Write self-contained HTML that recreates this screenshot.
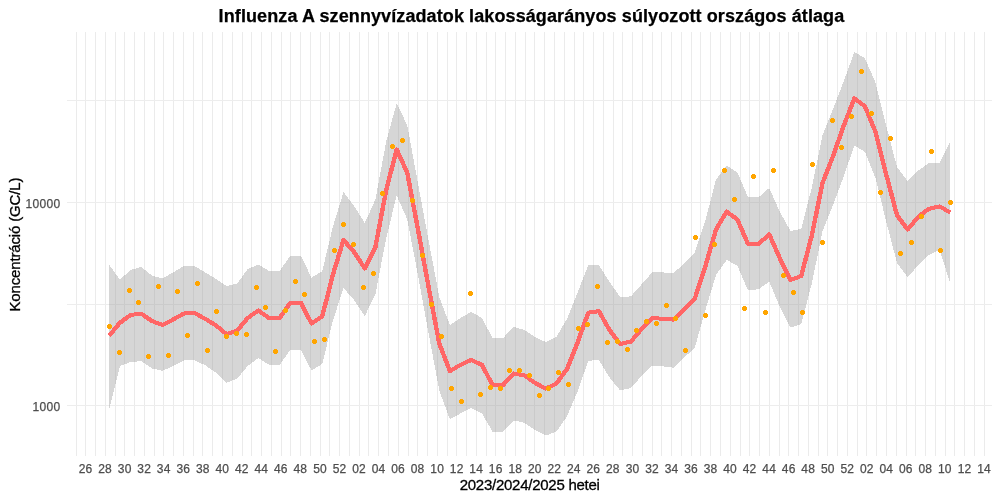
<!DOCTYPE html>
<html lang="hu"><head><meta charset="utf-8"><title>Influenza A szennyvízadatok</title>
<style>
html,body{margin:0;padding:0;background:#fff;}
body{width:1000px;height:500px;overflow:hidden;}
svg{display:block;font-family:"Liberation Sans",sans-serif;}
.tick{font-size:12px;fill:#4D4D4D;stroke:#4D4D4D;stroke-width:0.25px;}
.axt{font-size:15px;fill:#000;stroke:#000;stroke-width:0.3px;}
.ttl{font-size:18px;font-weight:bold;fill:#000;stroke:#000;stroke-width:0.25px;}
</style></head><body>
<svg width="1000" height="500" viewBox="0 0 1000 500">
<rect x="0" y="0" width="1000" height="500" fill="#FFFFFF"/>
<g shape-rendering="crispEdges" fill="#EBEBEB">
<rect x="76" y="32" width="1" height="424"/>
<rect x="85" y="32" width="1" height="424"/>
<rect x="95" y="32" width="1" height="424"/>
<rect x="105" y="32" width="1" height="424"/>
<rect x="115" y="32" width="1" height="424"/>
<rect x="124" y="32" width="1" height="424"/>
<rect x="134" y="32" width="1" height="424"/>
<rect x="144" y="32" width="1" height="424"/>
<rect x="154" y="32" width="1" height="424"/>
<rect x="163" y="32" width="1" height="424"/>
<rect x="173" y="32" width="1" height="424"/>
<rect x="183" y="32" width="1" height="424"/>
<rect x="193" y="32" width="1" height="424"/>
<rect x="202" y="32" width="1" height="424"/>
<rect x="212" y="32" width="1" height="424"/>
<rect x="222" y="32" width="1" height="424"/>
<rect x="232" y="32" width="1" height="424"/>
<rect x="242" y="32" width="1" height="424"/>
<rect x="251" y="32" width="1" height="424"/>
<rect x="261" y="32" width="1" height="424"/>
<rect x="271" y="32" width="1" height="424"/>
<rect x="281" y="32" width="1" height="424"/>
<rect x="290" y="32" width="1" height="424"/>
<rect x="300" y="32" width="1" height="424"/>
<rect x="310" y="32" width="1" height="424"/>
<rect x="320" y="32" width="1" height="424"/>
<rect x="329" y="32" width="1" height="424"/>
<rect x="339" y="32" width="1" height="424"/>
<rect x="349" y="32" width="1" height="424"/>
<rect x="359" y="32" width="1" height="424"/>
<rect x="368" y="32" width="1" height="424"/>
<rect x="378" y="32" width="1" height="424"/>
<rect x="388" y="32" width="1" height="424"/>
<rect x="398" y="32" width="1" height="424"/>
<rect x="408" y="32" width="1" height="424"/>
<rect x="417" y="32" width="1" height="424"/>
<rect x="427" y="32" width="1" height="424"/>
<rect x="437" y="32" width="1" height="424"/>
<rect x="447" y="32" width="1" height="424"/>
<rect x="456" y="32" width="1" height="424"/>
<rect x="466" y="32" width="1" height="424"/>
<rect x="476" y="32" width="1" height="424"/>
<rect x="486" y="32" width="1" height="424"/>
<rect x="495" y="32" width="1" height="424"/>
<rect x="505" y="32" width="1" height="424"/>
<rect x="515" y="32" width="1" height="424"/>
<rect x="525" y="32" width="1" height="424"/>
<rect x="534" y="32" width="1" height="424"/>
<rect x="544" y="32" width="1" height="424"/>
<rect x="554" y="32" width="1" height="424"/>
<rect x="564" y="32" width="1" height="424"/>
<rect x="574" y="32" width="1" height="424"/>
<rect x="583" y="32" width="1" height="424"/>
<rect x="593" y="32" width="1" height="424"/>
<rect x="603" y="32" width="1" height="424"/>
<rect x="613" y="32" width="1" height="424"/>
<rect x="622" y="32" width="1" height="424"/>
<rect x="632" y="32" width="1" height="424"/>
<rect x="642" y="32" width="1" height="424"/>
<rect x="652" y="32" width="1" height="424"/>
<rect x="661" y="32" width="1" height="424"/>
<rect x="671" y="32" width="1" height="424"/>
<rect x="681" y="32" width="1" height="424"/>
<rect x="691" y="32" width="1" height="424"/>
<rect x="700" y="32" width="1" height="424"/>
<rect x="710" y="32" width="1" height="424"/>
<rect x="720" y="32" width="1" height="424"/>
<rect x="730" y="32" width="1" height="424"/>
<rect x="740" y="32" width="1" height="424"/>
<rect x="749" y="32" width="1" height="424"/>
<rect x="759" y="32" width="1" height="424"/>
<rect x="769" y="32" width="1" height="424"/>
<rect x="779" y="32" width="1" height="424"/>
<rect x="788" y="32" width="1" height="424"/>
<rect x="798" y="32" width="1" height="424"/>
<rect x="808" y="32" width="1" height="424"/>
<rect x="818" y="32" width="1" height="424"/>
<rect x="827" y="32" width="1" height="424"/>
<rect x="837" y="32" width="1" height="424"/>
<rect x="847" y="32" width="1" height="424"/>
<rect x="857" y="32" width="1" height="424"/>
<rect x="866" y="32" width="1" height="424"/>
<rect x="876" y="32" width="1" height="424"/>
<rect x="886" y="32" width="1" height="424"/>
<rect x="896" y="32" width="1" height="424"/>
<rect x="906" y="32" width="1" height="424"/>
<rect x="915" y="32" width="1" height="424"/>
<rect x="925" y="32" width="1" height="424"/>
<rect x="935" y="32" width="1" height="424"/>
<rect x="945" y="32" width="1" height="424"/>
<rect x="954" y="32" width="1" height="424"/>
<rect x="964" y="32" width="1" height="424"/>
<rect x="974" y="32" width="1" height="424"/>
<rect x="984" y="32" width="1" height="424"/>
</g>
<g shape-rendering="crispEdges" fill="#EDEDED">
<rect x="67" y="100" width="925" height="1"/>
<rect x="67" y="202" width="925" height="1"/>
<rect x="67" y="304" width="925" height="1"/>
<rect x="67" y="405" width="925" height="1"/>
</g>
<path d="M109.3,264.9 L119.9,279.6 L130.6,270.0 L141.2,266.8 L151.9,275.6 L162.5,278.5 L173.2,272.4 L183.8,266.0 L194.5,266.0 L205.1,272.4 L215.7,278.8 L226.4,286.0 L237.0,283.6 L247.7,269.2 L258.3,264.4 L269.0,270.9 L279.6,270.9 L290.3,256.0 L300.9,256.0 L311.5,277.6 L322.2,271.2 L332.8,227.0 L343.5,192.0 L354.1,206.0 L364.8,223.0 L375.4,199.5 L386.1,142.0 L396.7,103.2 L407.3,125.4 L418.0,183.5 L428.6,240.5 L439.3,297.0 L449.9,325.2 L460.6,318.0 L471.2,311.8 L481.9,318.0 L492.5,338.0 L503.1,338.0 L513.8,326.8 L524.4,330.0 L535.1,337.2 L545.7,342.0 L556.4,337.0 L567.0,318.8 L577.6,292.4 L588.3,265.2 L598.9,265.2 L609.6,282.0 L620.2,297.2 L630.9,296.4 L641.5,284.4 L652.2,272.4 L662.8,272.4 L673.4,273.2 L684.1,263.4 L694.7,252.5 L705.4,220.5 L716.0,179.6 L726.7,165.4 L737.3,172.4 L748.0,197.2 L758.6,197.2 L769.2,188.0 L779.9,212.0 L790.5,231.0 L801.2,228.8 L811.8,187.5 L822.5,135.5 L833.1,108.8 L843.8,81.0 L854.4,52.0 L865.0,58.4 L875.7,83.2 L886.3,126.0 L897.0,167.2 L907.6,181.0 L918.3,170.4 L928.9,163.2 L939.6,163.0 L950.2,141.5 L950.2,283.0 L939.6,250.0 L928.9,254.8 L918.3,265.2 L907.6,277.2 L897.0,263.0 L886.3,222.0 L875.7,178.5 L865.0,152.0 L854.4,145.6 L843.8,176.0 L833.1,205.0 L822.5,231.5 L811.8,283.5 L801.2,324.0 L790.5,327.5 L779.9,307.0 L769.2,281.6 L758.6,289.2 L748.0,290.4 L737.3,265.5 L726.7,260.0 L716.0,275.0 L705.4,310.0 L694.7,348.0 L684.1,357.6 L673.4,367.7 L662.8,366.4 L652.2,365.6 L641.5,376.0 L630.9,388.0 L620.2,390.4 L609.6,377.6 L598.9,360.0 L588.3,360.8 L577.6,391.4 L567.0,416.4 L556.4,431.6 L545.7,435.6 L535.1,430.0 L524.4,422.8 L513.8,420.4 L503.1,431.6 L492.5,431.6 L481.9,413.4 L471.2,408.0 L460.6,413.4 L449.9,419.4 L439.3,390.5 L428.6,333.5 L418.0,275.5 L407.3,219.5 L396.7,195.5 L386.1,238.5 L375.4,294.5 L364.8,316.0 L354.1,300.0 L343.5,288.0 L332.8,321.0 L322.2,364.0 L311.5,370.4 L300.9,349.9 L290.3,349.9 L279.6,364.8 L269.0,364.8 L258.3,358.0 L247.7,366.0 L237.0,378.8 L226.4,382.8 L215.7,372.4 L205.1,365.2 L194.5,360.4 L183.8,360.4 L173.2,366.0 L162.5,370.8 L151.9,368.4 L141.2,361.2 L130.6,362.0 L119.9,366.0 L109.3,409.0 Z" fill="#999999" fill-opacity="0.4" shape-rendering="crispEdges"/>
<g fill="none" stroke="#FF6666" stroke-width="4" stroke-linejoin="round" stroke-linecap="butt" shape-rendering="crispEdges"><path id="ln" d="M109.3,335.6 L119.9,322.8 L130.6,314.9 L141.2,313.7 L151.9,321.0 L162.5,325.0 L173.2,319.5 L183.8,313.5 L194.5,313.0 L205.1,318.8 L215.7,325.2 L226.4,334.0 L237.0,330.8 L247.7,318.0 L258.3,310.5 L269.0,318.0 L279.6,318.0 L290.3,302.8 L300.9,302.8 L311.5,323.5 L322.2,316.5 L332.8,275.0 L343.5,240.0 L354.1,252.0 L364.8,268.5 L375.4,247.0 L386.1,190.5 L396.7,149.4 L407.3,173.0 L418.0,229.5 L428.6,287.0 L439.3,343.5 L449.9,371.2 L460.6,364.8 L471.2,360.0 L481.9,364.8 L492.5,385.0 L503.1,385.0 L513.8,373.5 L524.4,375.4 L535.1,383.0 L545.7,388.6 L556.4,383.6 L567.0,369.0 L577.6,342.4 L588.3,312.7 L598.9,311.2 L609.6,330.2 L620.2,344.0 L630.9,341.6 L641.5,329.0 L652.2,318.0 L662.8,318.8 L673.4,319.6 L684.1,309.4 L694.7,299.0 L705.4,266.0 L716.0,229.5 L726.7,211.6 L737.3,219.4 L748.0,244.0 L758.6,244.0 L769.2,234.3 L779.9,258.4 L790.5,280.0 L801.2,276.0 L811.8,235.5 L822.5,183.0 L833.1,156.0 L843.8,125.5 L854.4,98.4 L865.0,106.4 L875.7,132.5 L886.3,174.8 L897.0,215.2 L907.6,229.6 L918.3,216.8 L928.9,208.8 L939.6,206.4 L950.2,212.5"/><path transform="translate(-0.2,0)" d="M109.3,335.6 L119.9,322.8 L130.6,314.9 L141.2,313.7 L151.9,321.0 L162.5,325.0 L173.2,319.5 L183.8,313.5 L194.5,313.0 L205.1,318.8 L215.7,325.2 L226.4,334.0 L237.0,330.8 L247.7,318.0 L258.3,310.5 L269.0,318.0 L279.6,318.0 L290.3,302.8 L300.9,302.8 L311.5,323.5 L322.2,316.5 L332.8,275.0 L343.5,240.0 L354.1,252.0 L364.8,268.5 L375.4,247.0 L386.1,190.5 L396.7,149.4 L407.3,173.0 L418.0,229.5 L428.6,287.0 L439.3,343.5 L449.9,371.2 L460.6,364.8 L471.2,360.0 L481.9,364.8 L492.5,385.0 L503.1,385.0 L513.8,373.5 L524.4,375.4 L535.1,383.0 L545.7,388.6 L556.4,383.6 L567.0,369.0 L577.6,342.4 L588.3,312.7 L598.9,311.2 L609.6,330.2 L620.2,344.0 L630.9,341.6 L641.5,329.0 L652.2,318.0 L662.8,318.8 L673.4,319.6 L684.1,309.4 L694.7,299.0 L705.4,266.0 L716.0,229.5 L726.7,211.6 L737.3,219.4 L748.0,244.0 L758.6,244.0 L769.2,234.3 L779.9,258.4 L790.5,280.0 L801.2,276.0 L811.8,235.5 L822.5,183.0 L833.1,156.0 L843.8,125.5 L854.4,98.4 L865.0,106.4 L875.7,132.5 L886.3,174.8 L897.0,215.2 L907.6,229.6 L918.3,216.8 L928.9,208.8 L939.6,206.4 L950.2,212.5"/><path transform="translate(0.2,0)" d="M109.3,335.6 L119.9,322.8 L130.6,314.9 L141.2,313.7 L151.9,321.0 L162.5,325.0 L173.2,319.5 L183.8,313.5 L194.5,313.0 L205.1,318.8 L215.7,325.2 L226.4,334.0 L237.0,330.8 L247.7,318.0 L258.3,310.5 L269.0,318.0 L279.6,318.0 L290.3,302.8 L300.9,302.8 L311.5,323.5 L322.2,316.5 L332.8,275.0 L343.5,240.0 L354.1,252.0 L364.8,268.5 L375.4,247.0 L386.1,190.5 L396.7,149.4 L407.3,173.0 L418.0,229.5 L428.6,287.0 L439.3,343.5 L449.9,371.2 L460.6,364.8 L471.2,360.0 L481.9,364.8 L492.5,385.0 L503.1,385.0 L513.8,373.5 L524.4,375.4 L535.1,383.0 L545.7,388.6 L556.4,383.6 L567.0,369.0 L577.6,342.4 L588.3,312.7 L598.9,311.2 L609.6,330.2 L620.2,344.0 L630.9,341.6 L641.5,329.0 L652.2,318.0 L662.8,318.8 L673.4,319.6 L684.1,309.4 L694.7,299.0 L705.4,266.0 L716.0,229.5 L726.7,211.6 L737.3,219.4 L748.0,244.0 L758.6,244.0 L769.2,234.3 L779.9,258.4 L790.5,280.0 L801.2,276.0 L811.8,235.5 L822.5,183.0 L833.1,156.0 L843.8,125.5 L854.4,98.4 L865.0,106.4 L875.7,132.5 L886.3,174.8 L897.0,215.2 L907.6,229.6 L918.3,216.8 L928.9,208.8 L939.6,206.4 L950.2,212.5"/></g>
<g fill="#FFA500" shape-rendering="crispEdges">
<path d="M108,324h3v1h1v3h-1v1h-3v-1h-1v-3h1z"/>
<path d="M118,350h3v1h1v3h-1v1h-3v-1h-1v-3h1z"/>
<path d="M128,288h3v1h1v3h-1v1h-3v-1h-1v-3h1z"/>
<path d="M137,300h3v1h1v3h-1v1h-3v-1h-1v-3h1z"/>
<path d="M147,354h3v1h1v3h-1v1h-3v-1h-1v-3h1z"/>
<path d="M157,284h3v1h1v3h-1v1h-3v-1h-1v-3h1z"/>
<path d="M167,353h3v1h1v3h-1v1h-3v-1h-1v-3h1z"/>
<path d="M176,289h3v1h1v3h-1v1h-3v-1h-1v-3h1z"/>
<path d="M186,333h3v1h1v3h-1v1h-3v-1h-1v-3h1z"/>
<path d="M196,281h3v1h1v3h-1v1h-3v-1h-1v-3h1z"/>
<path d="M206,348h3v1h1v3h-1v1h-3v-1h-1v-3h1z"/>
<path d="M215,309h3v1h1v3h-1v1h-3v-1h-1v-3h1z"/>
<path d="M225,334h3v1h1v3h-1v1h-3v-1h-1v-3h1z"/>
<path d="M235,331h3v1h1v3h-1v1h-3v-1h-1v-3h1z"/>
<path d="M245,332h3v1h1v3h-1v1h-3v-1h-1v-3h1z"/>
<path d="M255,285h3v1h1v3h-1v1h-3v-1h-1v-3h1z"/>
<path d="M264,305h3v1h1v3h-1v1h-3v-1h-1v-3h1z"/>
<path d="M274,349h3v1h1v3h-1v1h-3v-1h-1v-3h1z"/>
<path d="M284,308h3v1h1v3h-1v1h-3v-1h-1v-3h1z"/>
<path d="M294,279h3v1h1v3h-1v1h-3v-1h-1v-3h1z"/>
<path d="M303,292h3v1h1v3h-1v1h-3v-1h-1v-3h1z"/>
<path d="M313,339h3v1h1v3h-1v1h-3v-1h-1v-3h1z"/>
<path d="M323,337h3v1h1v3h-1v1h-3v-1h-1v-3h1z"/>
<path d="M333,248h3v1h1v3h-1v1h-3v-1h-1v-3h1z"/>
<path d="M342,222h3v1h1v3h-1v1h-3v-1h-1v-3h1z"/>
<path d="M352,242h3v1h1v3h-1v1h-3v-1h-1v-3h1z"/>
<path d="M362,285h3v1h1v3h-1v1h-3v-1h-1v-3h1z"/>
<path d="M372,271h3v1h1v3h-1v1h-3v-1h-1v-3h1z"/>
<path d="M381,191h3v1h1v3h-1v1h-3v-1h-1v-3h1z"/>
<path d="M391,144h3v1h1v3h-1v1h-3v-1h-1v-3h1z"/>
<path d="M401,138h3v1h1v3h-1v1h-3v-1h-1v-3h1z"/>
<path d="M411,198h3v1h1v3h-1v1h-3v-1h-1v-3h1z"/>
<path d="M421,253h3v1h1v3h-1v1h-3v-1h-1v-3h1z"/>
<path d="M430,302h3v1h1v3h-1v1h-3v-1h-1v-3h1z"/>
<path d="M440,334h3v1h1v3h-1v1h-3v-1h-1v-3h1z"/>
<path d="M450,386h3v1h1v3h-1v1h-3v-1h-1v-3h1z"/>
<path d="M460,399h3v1h1v3h-1v1h-3v-1h-1v-3h1z"/>
<path d="M469,291h3v1h1v3h-1v1h-3v-1h-1v-3h1z"/>
<path d="M479,392h3v1h1v3h-1v1h-3v-1h-1v-3h1z"/>
<path d="M489,385h3v1h1v3h-1v1h-3v-1h-1v-3h1z"/>
<path d="M499,386h3v1h1v3h-1v1h-3v-1h-1v-3h1z"/>
<path d="M508,368h3v1h1v3h-1v1h-3v-1h-1v-3h1z"/>
<path d="M518,368h3v1h1v3h-1v1h-3v-1h-1v-3h1z"/>
<path d="M528,373h3v1h1v3h-1v1h-3v-1h-1v-3h1z"/>
<path d="M538,393h3v1h1v3h-1v1h-3v-1h-1v-3h1z"/>
<path d="M547,386h3v1h1v3h-1v1h-3v-1h-1v-3h1z"/>
<path d="M557,370h3v1h1v3h-1v1h-3v-1h-1v-3h1z"/>
<path d="M567,382h3v1h1v3h-1v1h-3v-1h-1v-3h1z"/>
<path d="M577,326h3v1h1v3h-1v1h-3v-1h-1v-3h1z"/>
<path d="M586,322h3v1h1v3h-1v1h-3v-1h-1v-3h1z"/>
<path d="M596,284h3v1h1v3h-1v1h-3v-1h-1v-3h1z"/>
<path d="M606,340h3v1h1v3h-1v1h-3v-1h-1v-3h1z"/>
<path d="M616,339h3v1h1v3h-1v1h-3v-1h-1v-3h1z"/>
<path d="M626,347h3v1h1v3h-1v1h-3v-1h-1v-3h1z"/>
<path d="M635,328h3v1h1v3h-1v1h-3v-1h-1v-3h1z"/>
<path d="M645,319h3v1h1v3h-1v1h-3v-1h-1v-3h1z"/>
<path d="M655,321h3v1h1v3h-1v1h-3v-1h-1v-3h1z"/>
<path d="M665,303h3v1h1v3h-1v1h-3v-1h-1v-3h1z"/>
<path d="M674,316h3v1h1v3h-1v1h-3v-1h-1v-3h1z"/>
<path d="M684,348h3v1h1v3h-1v1h-3v-1h-1v-3h1z"/>
<path d="M694,235h3v1h1v3h-1v1h-3v-1h-1v-3h1z"/>
<path d="M704,313h3v1h1v3h-1v1h-3v-1h-1v-3h1z"/>
<path d="M713,242h3v1h1v3h-1v1h-3v-1h-1v-3h1z"/>
<path d="M723,168h3v1h1v3h-1v1h-3v-1h-1v-3h1z"/>
<path d="M733,197h3v1h1v3h-1v1h-3v-1h-1v-3h1z"/>
<path d="M743,306h3v1h1v3h-1v1h-3v-1h-1v-3h1z"/>
<path d="M752,174h3v1h1v3h-1v1h-3v-1h-1v-3h1z"/>
<path d="M764,310h3v1h1v3h-1v1h-3v-1h-1v-3h1z"/>
<path d="M772,168h3v1h1v3h-1v1h-3v-1h-1v-3h1z"/>
<path d="M782,273h3v1h1v3h-1v1h-3v-1h-1v-3h1z"/>
<path d="M792,290h3v1h1v3h-1v1h-3v-1h-1v-3h1z"/>
<path d="M801,310h3v1h1v3h-1v1h-3v-1h-1v-3h1z"/>
<path d="M811,162h3v1h1v3h-1v1h-3v-1h-1v-3h1z"/>
<path d="M821,240h3v1h1v3h-1v1h-3v-1h-1v-3h1z"/>
<path d="M831,118h3v1h1v3h-1v1h-3v-1h-1v-3h1z"/>
<path d="M840,145h3v1h1v3h-1v1h-3v-1h-1v-3h1z"/>
<path d="M850,114h3v1h1v3h-1v1h-3v-1h-1v-3h1z"/>
<path d="M860,69h3v1h1v3h-1v1h-3v-1h-1v-3h1z"/>
<path d="M870,111h3v1h1v3h-1v1h-3v-1h-1v-3h1z"/>
<path d="M879,190h3v1h1v3h-1v1h-3v-1h-1v-3h1z"/>
<path d="M889,136h3v1h1v3h-1v1h-3v-1h-1v-3h1z"/>
<path d="M899,251h3v1h1v3h-1v1h-3v-1h-1v-3h1z"/>
<path d="M910,240h3v1h1v3h-1v1h-3v-1h-1v-3h1z"/>
<path d="M920,214h3v1h1v3h-1v1h-3v-1h-1v-3h1z"/>
<path d="M930,149h3v1h1v3h-1v1h-3v-1h-1v-3h1z"/>
<path d="M939,248h3v1h1v3h-1v1h-3v-1h-1v-3h1z"/>
<path d="M949,200h3v1h1v3h-1v1h-3v-1h-1v-3h1z"/>
</g>
<text class="tick" x="85.5" y="473" text-anchor="middle" textLength="13.5" lengthAdjust="spacing">26</text>
<text class="tick" x="105.0" y="473" text-anchor="middle" textLength="13.5" lengthAdjust="spacing">28</text>
<text class="tick" x="124.6" y="473" text-anchor="middle" textLength="13.5" lengthAdjust="spacing">30</text>
<text class="tick" x="144.1" y="473" text-anchor="middle" textLength="13.5" lengthAdjust="spacing">32</text>
<text class="tick" x="163.6" y="473" text-anchor="middle" textLength="13.5" lengthAdjust="spacing">34</text>
<text class="tick" x="183.2" y="473" text-anchor="middle" textLength="13.5" lengthAdjust="spacing">36</text>
<text class="tick" x="202.7" y="473" text-anchor="middle" textLength="13.5" lengthAdjust="spacing">38</text>
<text class="tick" x="222.2" y="473" text-anchor="middle" textLength="13.5" lengthAdjust="spacing">40</text>
<text class="tick" x="241.8" y="473" text-anchor="middle" textLength="13.5" lengthAdjust="spacing">42</text>
<text class="tick" x="261.3" y="473" text-anchor="middle" textLength="13.5" lengthAdjust="spacing">44</text>
<text class="tick" x="280.8" y="473" text-anchor="middle" textLength="13.5" lengthAdjust="spacing">46</text>
<text class="tick" x="300.3" y="473" text-anchor="middle" textLength="13.5" lengthAdjust="spacing">48</text>
<text class="tick" x="319.9" y="473" text-anchor="middle" textLength="13.5" lengthAdjust="spacing">50</text>
<text class="tick" x="339.4" y="473" text-anchor="middle" textLength="13.5" lengthAdjust="spacing">52</text>
<text class="tick" x="358.9" y="473" text-anchor="middle" textLength="13.5" lengthAdjust="spacing">02</text>
<text class="tick" x="378.5" y="473" text-anchor="middle" textLength="13.5" lengthAdjust="spacing">04</text>
<text class="tick" x="398.0" y="473" text-anchor="middle" textLength="13.5" lengthAdjust="spacing">06</text>
<text class="tick" x="417.5" y="473" text-anchor="middle" textLength="13.5" lengthAdjust="spacing">08</text>
<text class="tick" x="437.1" y="473" text-anchor="middle" textLength="13.5" lengthAdjust="spacing">10</text>
<text class="tick" x="456.6" y="473" text-anchor="middle" textLength="13.5" lengthAdjust="spacing">12</text>
<text class="tick" x="476.1" y="473" text-anchor="middle" textLength="13.5" lengthAdjust="spacing">14</text>
<text class="tick" x="495.6" y="473" text-anchor="middle" textLength="13.5" lengthAdjust="spacing">16</text>
<text class="tick" x="515.2" y="473" text-anchor="middle" textLength="13.5" lengthAdjust="spacing">18</text>
<text class="tick" x="534.7" y="473" text-anchor="middle" textLength="13.5" lengthAdjust="spacing">20</text>
<text class="tick" x="554.2" y="473" text-anchor="middle" textLength="13.5" lengthAdjust="spacing">22</text>
<text class="tick" x="573.8" y="473" text-anchor="middle" textLength="13.5" lengthAdjust="spacing">24</text>
<text class="tick" x="593.3" y="473" text-anchor="middle" textLength="13.5" lengthAdjust="spacing">26</text>
<text class="tick" x="612.8" y="473" text-anchor="middle" textLength="13.5" lengthAdjust="spacing">28</text>
<text class="tick" x="632.4" y="473" text-anchor="middle" textLength="13.5" lengthAdjust="spacing">30</text>
<text class="tick" x="651.9" y="473" text-anchor="middle" textLength="13.5" lengthAdjust="spacing">32</text>
<text class="tick" x="671.4" y="473" text-anchor="middle" textLength="13.5" lengthAdjust="spacing">34</text>
<text class="tick" x="690.9" y="473" text-anchor="middle" textLength="13.5" lengthAdjust="spacing">36</text>
<text class="tick" x="710.5" y="473" text-anchor="middle" textLength="13.5" lengthAdjust="spacing">38</text>
<text class="tick" x="730.0" y="473" text-anchor="middle" textLength="13.5" lengthAdjust="spacing">40</text>
<text class="tick" x="749.5" y="473" text-anchor="middle" textLength="13.5" lengthAdjust="spacing">42</text>
<text class="tick" x="769.1" y="473" text-anchor="middle" textLength="13.5" lengthAdjust="spacing">44</text>
<text class="tick" x="788.6" y="473" text-anchor="middle" textLength="13.5" lengthAdjust="spacing">46</text>
<text class="tick" x="808.1" y="473" text-anchor="middle" textLength="13.5" lengthAdjust="spacing">48</text>
<text class="tick" x="827.7" y="473" text-anchor="middle" textLength="13.5" lengthAdjust="spacing">50</text>
<text class="tick" x="847.2" y="473" text-anchor="middle" textLength="13.5" lengthAdjust="spacing">52</text>
<text class="tick" x="866.7" y="473" text-anchor="middle" textLength="13.5" lengthAdjust="spacing">02</text>
<text class="tick" x="886.2" y="473" text-anchor="middle" textLength="13.5" lengthAdjust="spacing">04</text>
<text class="tick" x="905.8" y="473" text-anchor="middle" textLength="13.5" lengthAdjust="spacing">06</text>
<text class="tick" x="925.3" y="473" text-anchor="middle" textLength="13.5" lengthAdjust="spacing">08</text>
<text class="tick" x="944.8" y="473" text-anchor="middle" textLength="13.5" lengthAdjust="spacing">10</text>
<text class="tick" x="964.4" y="473" text-anchor="middle" textLength="13.5" lengthAdjust="spacing">12</text>
<text class="tick" x="983.9" y="473" text-anchor="middle" textLength="13.5" lengthAdjust="spacing">14</text>
<text class="tick" x="60.2" y="208" text-anchor="end" textLength="34.6" lengthAdjust="spacing">10000</text>
<text class="tick" x="60.2" y="411" text-anchor="end" textLength="27.6" lengthAdjust="spacing">1000</text>
<text class="axt" x="459.7" y="490" textLength="140.2" lengthAdjust="spacing">2023/2024/2025 hetei</text>
<text class="axt" transform="translate(20,311.5) rotate(-90)" textLength="134" lengthAdjust="spacing">Koncentráció (GC/L)</text>
<text class="ttl" x="218.6" y="22" textLength="625.6" lengthAdjust="spacing">Influenza A szennyvízadatok lakosságarányos súlyozott országos átlaga</text>
</svg></body></html>
